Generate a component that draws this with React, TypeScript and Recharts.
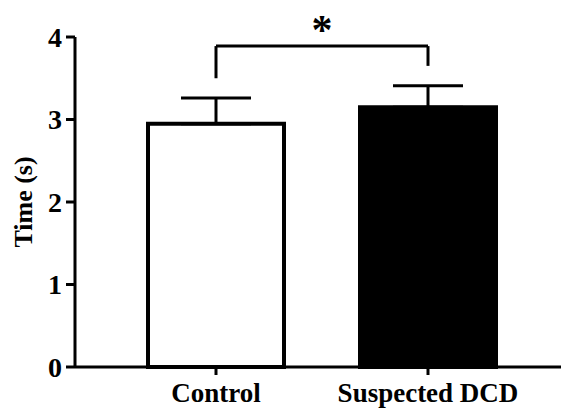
import { BarChart, Bar, XAxis, YAxis, ErrorBar, Cell, ReferenceLine, Label } from "recharts";

const groups = ["Control", "Suspected DCD"];
const means = [2.95, 3.15];
const upperErrors = [0.31, 0.26];
const fills = ["#ffffff", "#000000"];
const yTicks = [0, 1, 2, 3, 4];

// significance bracket (y values in seconds)
const bracketTop = 3.89;
const bracketLeftEnd = 3.5;
const bracketRightEnd = 3.65;

const data = groups.map((g, i) => ({
  name: g,
  time: means[i],
  err: [0, upperErrors[i]],
}));

const font = "'Liberation Serif', 'Times New Roman', serif";

export default function App() {
  return (
    <div style={{ position: "absolute", left: 0, top: 0, background: "#fff" }}>
      <BarChart
        width={561}
        height={409}
        data={data}
        margin={{ top: 37, right: 0, bottom: 0, left: 0 }}
      >
        <XAxis
          dataKey="name"
          height={42}
          padding={{ left: 35, right: 27 }}
          axisLine={{ stroke: "#000", strokeWidth: 3 }}
          tickLine={{ stroke: "#000", strokeWidth: 3 }}
          tickSize={8}
          tickMargin={8}
          tick={{ fill: "#000", fontSize: 27, fontWeight: "bold", fontFamily: font }}
        />
        <YAxis
          width={75}
          domain={[0, 4]}
          ticks={yTicks}
          interval={0}
          axisLine={{ stroke: "#000", strokeWidth: 3 }}
          tickLine={{ stroke: "#000", strokeWidth: 3 }}
          tickSize={9}
          tickMargin={4}
          tick={{ fill: "#000", fontSize: 28, fontWeight: "bold", fontFamily: font }}
        >
          <Label
            content={(props: any) => {
              const vb = props.viewBox || { x: 0, y: 37, width: 75, height: 330 };
              const cx = 23;
              const cy = vb.y + vb.height / 2;
              return (
                <text
                  x={cx}
                  y={cy}
                  transform={`rotate(-90, ${cx}, ${cy})`}
                  textAnchor="middle"
                  dominantBaseline="central"
                  fontFamily={font}
                  fontWeight="bold"
                  fontSize={26}
                  fill="#000"
                >
                  Time (s)
                </text>
              );
            }}
          />
        </YAxis>
        <Bar dataKey="time" barSize={136} stroke="#000" strokeWidth={4} isAnimationActive={false}>
          {data.map((d, i) => (
            <Cell key={d.name} fill={fills[i]} />
          ))}
          <ErrorBar dataKey="err" width={35} stroke="#000" strokeWidth={3} direction="y" />
        </Bar>
        <ReferenceLine
          segment={[{ x: groups[0], y: bracketTop }, { x: groups[1], y: bracketTop }]}
          stroke="#000"
          strokeWidth={3}
          ifOverflow="visible"
        >
          <Label
            value="*"
            position="top"
            offset={2}
            fill="#000"
            fontSize={42}
            fontWeight="bold"
            fontFamily={font}
          />
        </ReferenceLine>
        <ReferenceLine
          segment={[{ x: groups[0], y: bracketTop }, { x: groups[0], y: bracketLeftEnd }]}
          stroke="#000"
          strokeWidth={3}
          ifOverflow="visible"
        />
        <ReferenceLine
          segment={[{ x: groups[1], y: bracketTop }, { x: groups[1], y: bracketRightEnd }]}
          stroke="#000"
          strokeWidth={3}
          ifOverflow="visible"
        />
      </BarChart>
    </div>
  );
}
